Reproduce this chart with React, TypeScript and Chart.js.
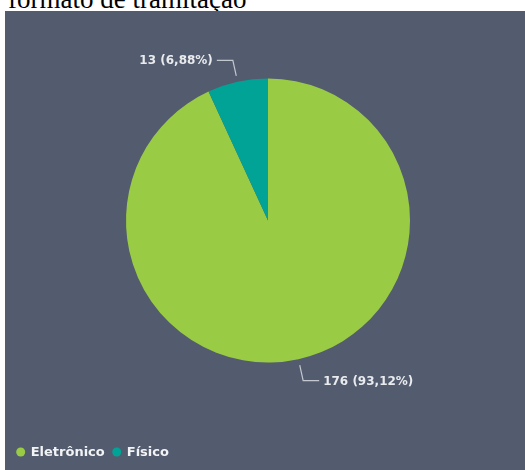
import React, { useEffect, useRef } from "react";
import { Chart, registerables } from "chart.js";

Chart.register(...registerables);

const title = "formato de tramitação";
const categories = ["Eletrônico", "Físico"];
const values = [176, 13];
const colors = ["#9acb45", "#01a396"];

const BG = "#525c6e";
const LABEL_COLOR = "#e9ebee";
const LINE_COLOR = "#c3c8d0";
const LABEL_FONT = "bold 12px 'DejaVu Sans', 'Open Sans', sans-serif";
const LEGEND_FONT = "bold 13px 'DejaVu Sans', 'Open Sans', sans-serif";

const labelPlugin = {
  id: "pbiLabels",
  afterDraw(chart: any) {
    const ctx: CanvasRenderingContext2D = chart.ctx;
    const meta = chart.getDatasetMeta(0);
    const data: number[] = chart.data.datasets[0].data;
    const total = data.reduce((a, b) => a + b, 0);
    ctx.save();
    ctx.font = LABEL_FONT;
    ctx.textBaseline = "middle";
    meta.data.forEach((arc: any, i: number) => {
      const { x, y, startAngle, endAngle, outerRadius } = arc.getProps(
        ["x", "y", "startAngle", "endAngle", "outerRadius"],
        true
      );
      const mid = (startAngle + endAngle) / 2;
      const c = Math.cos(mid);
      const s = Math.sin(mid);
      const r1 = outerRadius + 6;
      const r2 = outerRadius + 22;
      const p1x = x + c * r1;
      const p1y = y + s * r1;
      const p2x = x + c * r2;
      const p2y = y + s * r2;
      const dir = c >= 0 ? 1 : -1;
      const p3x = p2x + dir * 16;
      ctx.strokeStyle = LINE_COLOR;
      ctx.lineWidth = 1.2;
      ctx.beginPath();
      ctx.moveTo(p1x, p1y);
      ctx.lineTo(p2x, p2y);
      ctx.lineTo(p3x, p2y);
      ctx.stroke();
      const pct = ((data[i] / total) * 100).toFixed(2).replace(".", ",");
      const txt = `${data[i]} (${pct}%)`;
      ctx.fillStyle = LABEL_COLOR;
      ctx.textAlign = dir > 0 ? "left" : "right";
      ctx.fillText(txt, p3x + dir * 4, p2y + 1);
    });

    // legend
    ctx.font = LEGEND_FONT;
    const ly = chart.height - 18;
    let lx = 15.7;
    ctx.textAlign = "left";
    chart.data.labels.forEach((lab: string, i: number) => {
      ctx.fillStyle = colors[i];
      ctx.beginPath();
      ctx.arc(lx, ly, 4.5, 0, Math.PI * 2);
      ctx.fill();
      ctx.fillStyle = "#f2f3f5";
      ctx.fillText(lab, lx + 10, ly + 1);
      lx = lx + 10 + ctx.measureText(lab).width + 12;
    });
    ctx.restore();
  },
};

export default function App() {
  const ref = useRef<HTMLCanvasElement | null>(null);
  useEffect(() => {
    if (!ref.current) return;
    const chart = new Chart(ref.current, {
      type: "pie",
      data: {
        labels: categories,
        datasets: [
          {
            data: values,
            backgroundColor: colors,
            borderWidth: 0,
          },
        ],
      },
      options: {
        animation: false,
        responsive: false,
        maintainAspectRatio: false,
        layout: { padding: { left: 121, right: 115, top: 67, bottom: 107 } },
        plugins: {
          legend: { display: false },
          tooltip: { enabled: false },
          title: { display: false },
        },
      },
      plugins: [labelPlugin],
    });
    return () => chart.destroy();
  }, []);

  return (
    <div>
      <div
        style={{
          position: "absolute",
          left: 8,
          top: -14,
          fontFamily: "'Liberation Serif', 'Times New Roman', serif",
          fontSize: 27,
          lineHeight: "27px",
          color: "#000",
          whiteSpace: "nowrap",
        }}
      >
        {title}
      </div>
      <canvas
        ref={ref}
        width={520}
        height={459}
        style={{
          position: "absolute",
          left: 5,
          top: 11,
          width: 520,
          height: 459,
          background: BG,
          display: "block",
        }}
      />
    </div>
  );
}
